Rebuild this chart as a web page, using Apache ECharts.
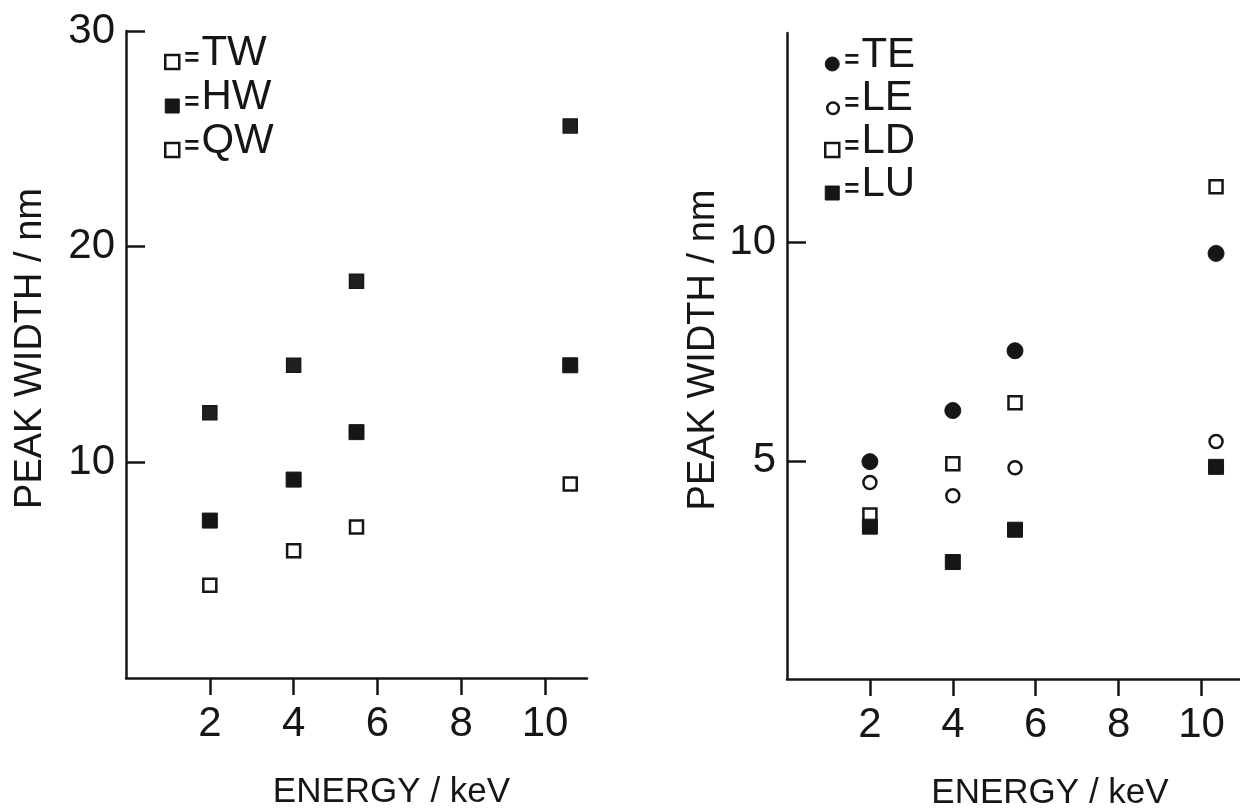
<!DOCTYPE html>
<html><head><meta charset="utf-8">
<script src="https://cdn.jsdelivr.net/npm/echarts@6/dist/echarts.min.js"></script>
<style>html,body{margin:0;padding:0;background:#fff}#c{width:1240px;height:811px}</style>
</head><body><div id="c"></div>
<script>
// ---- data (left panel) ----
const energyLeft = [2, 4, 5.5, 10.6];
const TW = [12.3, 14.5, 18.4, 25.6];
const HW = [7.3, 9.2, 11.4, 14.5];
const QW = [4.3, 5.9, 7.0, 9.0];
// ---- data (right panel) ----
const energyRight = [2, 4, 5.5, 10.35];
const TE = [4.98, 6.15, 7.52, 9.75];
const LE = [4.50, 4.20, 4.84, 5.44];
const LD = [3.76, 4.93, 6.33, 11.28];
const LU = [3.49, 2.68, 3.42, 4.86];
// ---- tick labels ----
const xTicks = [2, 4, 6, 8, 10];
const leftYTicks = [10, 20, 30];
const rightYTicks = [5, 10];
const xName = 'ENERGY / keV';
const yName = 'PEAK WIDTH / nm';

const INK = '#161616';
const F = '"Liberation Sans", Arial, sans-serif';
const pairs = (xs, ys) => xs.map((x, i) => [x, ys[i]]);

function xAxis(gi) {
  return {
    type: 'value', gridIndex: gi, min: 0, max: 11, interval: 1,
    name: xName, nameLocation: 'middle', nameGap: 97,
    nameTextStyle: { fontFamily: F, fontSize: 35, color: INK, padding: [0, 0, 0, 70] },
    axisLine: { show: true, lineStyle: { color: INK, width: 2.5 } },
    axisTick: { show: true, inside: false, length: 17, customValues: xTicks, lineStyle: { color: INK, width: 2.5 } },
    axisLabel: { customValues: xTicks, fontFamily: F, fontSize: 42, color: INK, margin: 25 },
    splitLine: { show: false }
  };
}
function yAxis(gi, max, ticks, nameGap) {
  return {
    type: 'value', gridIndex: gi, min: 0, max: max, interval: 5,
    name: yName, nameLocation: 'middle', nameGap: nameGap, nameRotate: 90,
    nameTextStyle: { fontFamily: F, fontSize: 38, color: INK, padding: [0, 0, 0, 12] },
    axisLine: { show: true, lineStyle: { color: INK, width: 2.5 } },
    axisTick: { show: true, inside: true, length: 19, customValues: ticks, lineStyle: { color: INK, width: 2.5 } },
    axisLabel: { customValues: ticks, fontFamily: F, fontSize: 42, color: INK, margin: 11 },
    splitLine: { show: false }
  };
}
const openSq = { color: '#fff', borderColor: INK, borderWidth: 2.5, opacity: 1 };
const openCi = { color: '#fff', borderColor: INK, borderWidth: 2.5, opacity: 1 };
const fill = { color: INK, borderColor: INK, borderWidth: 1, opacity: 1 };
// legend icons: marker sits low, beside the baseline of the text
const ICON_SQ = 'path://M0,0M0,18h14v14h-14z';
const ICON_CI = 'path://M0,0M0,25a7,7 0 1,0 14,0a7,7 0 1,0 -14,0z';
const ICON_CI_S = 'path://M0,0M1.5,25a5.5,5.5 0 1,0 11,0a5.5,5.5 0 1,0 -11,0z';
const legendText = {
  fontFamily: F, fontSize: 42, color: INK,
  rich: {
    e: { fontFamily: F, fontSize: 26, color: INK, fontWeight: 'bold', verticalAlign: 'bottom', padding: [0, 2, 2, 0] },
    n: { fontFamily: F, fontSize: 42, color: INK }
  }
};
const fmt = n => '{e|=}{n|' + n + '}';

const option = {
  animation: false,
  backgroundColor: '#ffffff',
  grid: [
    { left: 126, top: 31, width: 461, height: 647, outerBoundsMode: 'none', containLabel: false },
    { left: 787, top: 33, width: 456, height: 646, outerBoundsMode: 'none', containLabel: false }
  ],
  xAxis: [xAxis(0), xAxis(1)],
  yAxis: [yAxis(0, 30, leftYTicks, 76), yAxis(1, 14.8, rightYTicks, 64)],
  legend: [
    {
      left: 164, top: 32, orient: 'vertical', padding: 0, itemGap: 2,
      itemWidth: 14, itemHeight: 32, selectedMode: false,
      textStyle: legendText, formatter: fmt,
      data: [
        { name: 'TW', icon: ICON_SQ, itemStyle: openSq },
        { name: 'HW', icon: ICON_SQ, itemStyle: fill },
        { name: 'QW', icon: ICON_SQ, itemStyle: openSq }
      ]
    },
    {
      left: 824, top: 34, orient: 'vertical', padding: 0, itemGap: 1,
      itemWidth: 14, itemHeight: 32, selectedMode: false,
      textStyle: legendText, formatter: fmt,
      data: [
        { name: 'TE', icon: ICON_CI, itemStyle: fill },
        { name: 'LE', icon: ICON_CI_S, itemStyle: openCi },
        { name: 'LD', icon: ICON_SQ, itemStyle: openSq },
        { name: 'LU', icon: ICON_SQ, itemStyle: fill }
      ]
    }
  ],
  series: [
    { name: 'TW', type: 'scatter', xAxisIndex: 0, yAxisIndex: 0, symbol: 'rect', symbolSize: 14,
      itemStyle: { color: '#202020', borderColor: INK, borderWidth: 1.5, opacity: 1 }, data: pairs(energyLeft, TW) },
    { name: 'HW', type: 'scatter', xAxisIndex: 0, yAxisIndex: 0, symbol: 'rect', symbolSize: 15,
      itemStyle: fill, data: pairs(energyLeft, HW) },
    { name: 'QW', type: 'scatter', xAxisIndex: 0, yAxisIndex: 0, symbol: 'rect', symbolSize: 13,
      itemStyle: openSq, data: pairs(energyLeft, QW) },
    { name: 'TE', type: 'scatter', xAxisIndex: 1, yAxisIndex: 1, symbol: 'circle', symbolSize: 16,
      itemStyle: fill, data: pairs(energyRight, TE) },
    { name: 'LE', type: 'scatter', xAxisIndex: 1, yAxisIndex: 1, symbol: 'circle', symbolSize: 13,
      itemStyle: openCi, data: pairs(energyRight, LE) },
    { name: 'LD', type: 'scatter', xAxisIndex: 1, yAxisIndex: 1, symbol: 'rect', symbolSize: 13,
      itemStyle: openSq, data: pairs(energyRight, LD) },
    { name: 'LU', type: 'scatter', xAxisIndex: 1, yAxisIndex: 1, symbol: 'rect', symbolSize: 15,
      itemStyle: fill, data: pairs(energyRight, LU) }
  ]
};
const chart = echarts.init(document.getElementById('c'), null, { renderer: 'canvas' });
chart.setOption(option);
</script>
</body></html>
